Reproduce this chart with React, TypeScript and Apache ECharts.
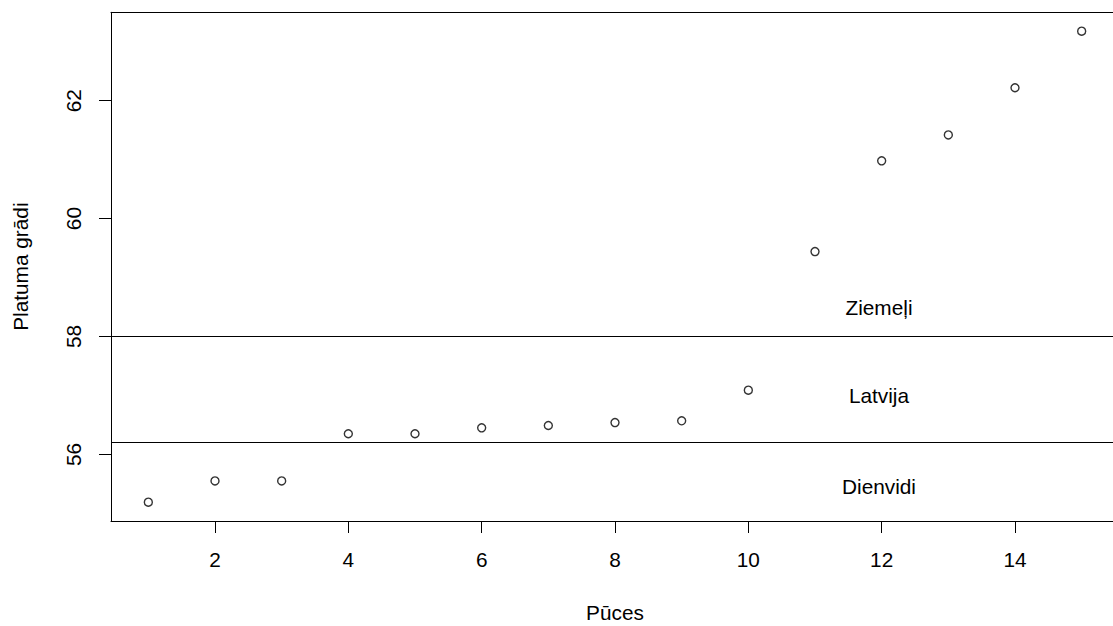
import React, { useEffect, useRef } from "react";
import * as echarts from "echarts";

// Data
const puces = [1, 2, 3, 4, 5, 6, 7, 8, 9, 10, 11, 12, 13, 14, 15];
const platums = [55.19, 55.55, 55.55, 56.35, 56.35, 56.45, 56.49, 56.54, 56.57, 57.09, 59.44, 60.98, 61.42, 62.22, 63.18];
const robezas = [58, 56.2];
const regionNames = ["Ziemeļi", "Latvija", "Dienvidi"];
const regionX = [11.96, 11.96, 11.96];
const regionY = [58.5, 57, 55.46];
const xTicks = [2, 4, 6, 8, 10, 12, 14];
const yTicks = [56, 58, 60, 62];

const FONT = "'Liberation Sans', Arial, Helvetica, sans-serif";
const FS = 20.8;
const X_MIN = 0.44;
const X_MAX = 15.56;

export default function App() {
  const ref = useRef<HTMLDivElement>(null);
  useEffect(() => {
    if (!ref.current) return;
    const chart = echarts.init(ref.current, null, { renderer: "svg" });
    const points = puces.map((x, i) => [x, platums[i]]);
    const regions = regionNames.map((n, i) => [regionX[i], regionY[i], n]);
    const boxLine = { show: true, lineStyle: { color: "#000", width: 1 } };
    chart.setOption({
      animation: false,
      backgroundColor: "#fff",
      textStyle: { fontFamily: FONT, color: "#000" },
      grid: {
        left: 111,
        top: 12.3,
        width: 1008,
        height: 508.7,
        outerBoundsMode: "none",
        containLabel: false,
        show: false,
      },
      xAxis: [
        {
          type: "value",
          position: "bottom",
          min: X_MIN,
          max: X_MAX,
          name: "Pūces",
          nameLocation: "middle",
          nameGap: 81,
          nameTextStyle: { fontSize: FS, color: "#000", fontFamily: FONT },
          axisLine: boxLine,
          splitLine: { show: false },
          axisTick: { show: true, length: 12, customValues: xTicks, lineStyle: { color: "#000", width: 1 } },
          axisLabel: { customValues: xTicks, margin: 28, fontSize: FS, color: "#000", fontFamily: FONT },
        },
        {
          type: "value",
          position: "top",
          min: X_MIN,
          max: X_MAX,
          axisLine: boxLine,
          splitLine: { show: false },
          axisTick: { show: false },
          axisLabel: { show: false },
        },
      ],
      yAxis: {
        type: "value",
        min: 54.87,
        max: 63.5,
        name: "Platuma grādi",
        nameLocation: "middle",
        nameGap: 80,
        nameTextStyle: { fontSize: FS, color: "#000", fontFamily: FONT },
        axisLine: boxLine,
        splitLine: { show: false },
        axisTick: { show: true, length: 12, customValues: yTicks, lineStyle: { color: "#000", width: 1 } },
        axisLabel: { customValues: yTicks, rotate: 90, margin: 27, fontSize: FS, color: "#000", fontFamily: FONT },
      },
      series: [
        {
          type: "scatter",
          data: points,
          symbol: "circle",
          symbolSize: 8,
          itemStyle: { color: "transparent", borderColor: "#000", borderWidth: 1.4 },
          markLine: {
            silent: true,
            symbol: "none",
            label: { show: false },
            lineStyle: { color: "#000", width: 1, type: "solid" },
            data: robezas.map((v) => ({ yAxis: v })),
          },
        },
        {
          type: "scatter",
          data: regions,
          symbolSize: 1,
          itemStyle: { color: "transparent" },
          label: {
            show: true,
            position: "inside",
            formatter: (p: any) => p.data[2],
            fontSize: FS,
            color: "#000",
            opacity: 1,
            textBorderWidth: 0,
            fontFamily: FONT,
          },
        },
      ],
    });
    return () => chart.dispose();
  }, []);
  return (
    <div
      ref={ref}
      style={{ position: "absolute", left: 0, top: 0, width: 1113, height: 626, overflow: "hidden" }}
    />
  );
}
